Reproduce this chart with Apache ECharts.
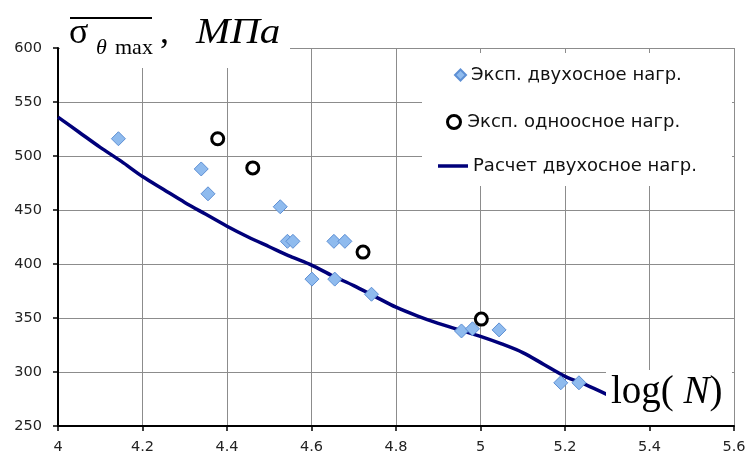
<!DOCTYPE html>
<html>
<head>
<meta charset="utf-8">
<script src="https://cdn.jsdelivr.net/npm/echarts@6/dist/echarts.min.js"></script>
<style>
  html, body { margin: 0; padding: 0; background: #fff; }
  #chart { width: 749px; height: 455px; }
</style>
</head>
<body>
<div id="chart"></div>
<script>
// Experimental points, biaxial loading: log(N) and stress, MPa
const biaxialLogN = [4.143, 4.339, 4.355, 4.526, 4.543, 4.556, 4.601, 4.653, 4.655, 4.679, 4.742, 4.955, 4.981, 5.044, 5.190, 5.233];
const biaxialStress = [516, 488, 465, 453, 421, 421, 386, 421, 386, 421, 372, 338, 340, 339, 290, 290];

// Experimental points, uniaxial loading
const uniaxialLogN = [4.378, 4.461, 4.722, 5.002];
const uniaxialStress = [516, 489, 411, 349];

// Calculated curve, biaxial loading
const calcLogN = [4.00, 4.05, 4.10, 4.15, 4.20, 4.25, 4.30, 4.35, 4.40, 4.45, 4.50, 4.55, 4.60, 4.65, 4.70, 4.75, 4.80, 4.85, 4.90, 4.95, 5.00, 5.05, 5.10, 5.15, 5.20, 5.25, 5.30];
const calcStress = [536, 522, 508, 495, 481, 469, 457, 446, 435, 425, 416, 407, 399, 389, 380, 370, 360, 352, 345, 339, 333, 326, 318, 307, 296, 288, 279];

const seriesNames = ['Эксп. двухосное нагр.', 'Эксп. одноосное нагр.', 'Расчет двухосное нагр.'];

const zip = (xs, ys) => xs.map((x, i) => [x, ys[i]]);

const SANS = 'DejaVu Sans, Liberation Sans, Arial, sans-serif';
const SERIF = 'Liberation Serif, Times New Roman, serif';

const chart = echarts.init(document.getElementById('chart'), null, { renderer: 'canvas' });

const legendText = { fontFamily: SANS, fontSize: 18, color: '#111' };

chart.setOption({
  animation: false,
  backgroundColor: '#fff',
  grid: { left: 58, right: 15, top: 48, bottom: 28, containLabel: false },
  xAxis: {
    type: 'value', min: 4, max: 5.6, interval: 0.2,
    axisLine: { lineStyle: { color: '#000', width: 2 } },
    axisTick: { show: true, length: 5, lineStyle: { color: '#000', width: 1.5 } },
    axisLabel: { fontFamily: SANS, fontSize: 14.5, color: '#222', margin: 14,
      formatter: v => String(Math.round(v * 10) / 10) },
    splitLine: { show: true, lineStyle: { color: '#8c8c8c', width: 1 } }
  },
  yAxis: {
    type: 'value', min: 250, max: 600, interval: 50,
    axisLine: { show: true, lineStyle: { color: '#000', width: 2 } },
    axisTick: { show: true, length: 5, lineStyle: { color: '#000', width: 1.5 } },
    axisLabel: { fontFamily: SANS, fontSize: 14.5, color: '#222', margin: 16 },
    splitLine: { show: true, lineStyle: { color: '#8c8c8c', width: 1 } }
  },
  legend: [
    { data: [{ name: seriesNames[0], icon: 'diamond' }], orient: 'vertical', left: 454, top: 66,
      itemWidth: 11, itemHeight: 11, padding: 0, textStyle: legendText, z: 20 },
    { data: [{ name: seriesNames[1], icon: 'circle' }], orient: 'vertical', left: 446, top: 113,
      itemWidth: 13, itemHeight: 13, padding: 0,
      itemStyle: { color: '#fff', borderColor: '#000', borderWidth: 3 },
      textStyle: Object.assign({ padding: [0, 0, 0, 2] }, legendText), z: 20 },
    { data: [{ name: seriesNames[2], icon: 'rect' }], orient: 'vertical', left: 438, top: 157,
      itemWidth: 30, itemHeight: 3.5, padding: 0, textStyle: legendText, z: 20 }
  ],
  series: [
    {
      name: seriesNames[2], type: 'line', data: zip(calcLogN, calcStress),
      showSymbol: false, symbol: 'none', smooth: 0.3,
      lineStyle: { color: '#00007a', width: 3.5 }, itemStyle: { color: '#00007a' }, z: 3
    },
    {
      name: seriesNames[0], type: 'scatter', data: zip(biaxialLogN, biaxialStress),
      symbol: 'diamond', symbolSize: 14,
      itemStyle: { color: '#8fbbee', borderColor: '#5d8fd4', borderWidth: 1, opacity: 1 }, z: 4
    },
    {
      name: seriesNames[1], type: 'scatter', data: zip(uniaxialLogN, uniaxialStress),
      symbol: 'circle', symbolSize: 12,
      itemStyle: { color: '#fff', borderColor: '#000', borderWidth: 3, opacity: 1 }, z: 5
    }
  ],
  graphic: [
    // white panels behind the axis name, legend and x-axis name
    { type: 'rect', z: 10, shape: { x: 60, y: 28, width: 230, height: 40 }, style: { fill: '#fff' } },
    { type: 'rect', z: 10, shape: { x: 422, y: 53, width: 310, height: 133 }, style: { fill: '#fff' } },
    { type: 'rect', z: 10, shape: { x: 606, y: 370, width: 126, height: 55 }, style: { fill: '#fff' } },
    // y-axis name: mean sigma_theta_max, MPa
    { type: 'line', z: 11, shape: { x1: 70, y1: 18, x2: 152, y2: 18 }, style: { stroke: '#000', lineWidth: 2 } },
    { type: 'text', z: 11, x: 69, y: 34, style: { text: 'σ', font: '36px ' + SERIF, fill: '#000', verticalAlign: 'middle' } },
    { type: 'text', z: 11, x: 96, y: 48, style: { text: 'θ', font: 'italic 22px ' + SERIF, fill: '#000', verticalAlign: 'middle' } },
    { type: 'text', z: 11, x: 115, y: 48, style: { text: 'max', font: '22px ' + SERIF, fill: '#000', verticalAlign: 'middle' } },
    { type: 'text', z: 11, x: 160, y: 34, style: { text: ',', font: '36px ' + SERIF, fill: '#000', verticalAlign: 'middle' } },
    { type: 'text', z: 11, x: 196, y: 34, scaleX: 1.14, style: { text: 'МПа', font: 'italic 36px ' + SERIF, fill: '#000', verticalAlign: 'middle' } },
    // x-axis name: log(N)
    { type: 'text', z: 11, x: 611, y: 393, style: {
        text: 'log( {n|N})', font: '39px ' + SERIF, fill: '#000', verticalAlign: 'middle',
        rich: { n: { fontStyle: 'italic', fontFamily: SERIF, fontSize: 39, fill: '#000' } } } }
  ]
});
</script>
</body>
</html>
